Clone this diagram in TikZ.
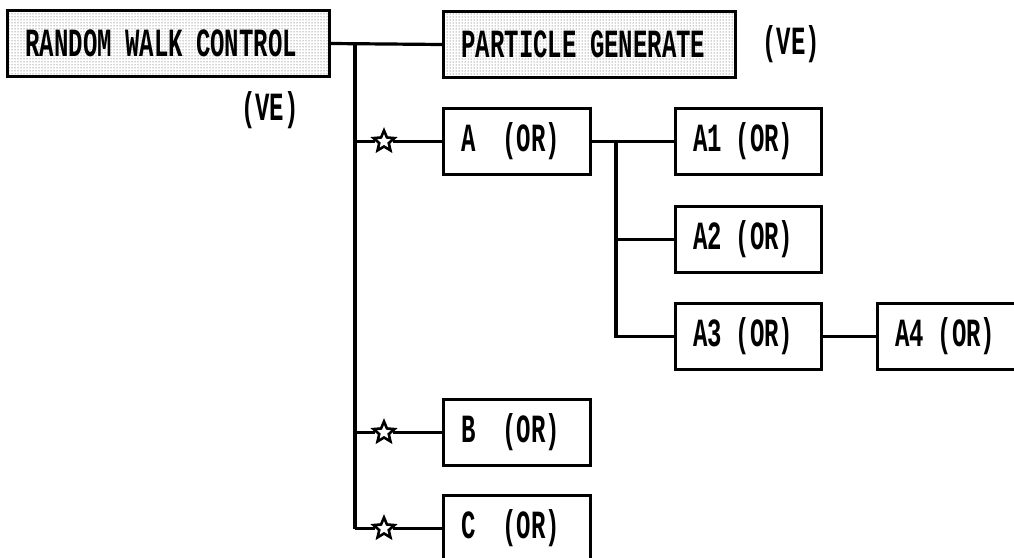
\documentclass[tikz,border=0pt]{standalone}
\usepackage{fontspec}
\usetikzlibrary{shapes.geometric,patterns}
\newfontfamily\boxfont{Liberation Mono}[FakeStretch=0.6]

\tikzset{
  lbl/.style={font=\boxfont\bfseries\fontsize{40}{44}\selectfont, inner sep=0pt},
  box/.style={lbl, draw, line width=3pt, minimum height=66pt,
              text width=#1, inner xsep=18pt, align=left, anchor=north west},
  shaded/.style={pattern=dots, pattern color=black!75},
  wire/.style={line width=3.2pt},
  mark star/.style={star, star points=5, star point ratio=2.2, draw,
                    line width=2.6pt, minimum size=22pt, inner sep=0pt}
}

\begin{document}
\begin{tikzpicture}[x=1pt,y=-1pt]
\useasboundingbox (0,0) rectangle (1014,557);
\clip (0,0) rectangle (1014,557);

% controller and particle generator
\node[box=286pt, shaded] (rwc) at (6,9)   {RANDOM WALK CONTROL};
\node[box=256pt, shaded] (pg)  at (442,10) {PARTICLE GENERATE};
\node[lbl] (ve1) at (270,110) {(VE)};
\node[lbl] (ve2) at (791,44)  {(VE)};

% first-level objects
\node[box=111pt] (A) at (442,107) {A~~(OR)};
\node[box=111pt] (B) at (442,398) {B~~(OR)};
\node[box=111pt] (C) at (442,494) {C~~(OR)};

% children of A
\node[box=110pt] (A1) at (674,107) {A1 (OR)};
\node[box=110pt] (A2) at (674,205) {A2 (OR)};
\node[box=110pt] (A3) at (674,302) {A3 (OR)};
\node[box=124pt] (A4) at (876,302) {A4 (OR)};

% column guides
\coordinate (trunk) at (355,0);
\coordinate (starcol) at (384,0);
\coordinate (subtrunk) at (616,0);

% stars on the trunk branches
\node[mark star] (sA) at (starcol |- A.west) {};
\node[mark star] (sB) at (starcol |- B.west) {};
\node[mark star] (sC) at (starcol |- C.west) {};

% trunk
\coordinate (t0) at (trunk |- rwc.east);
\coordinate (tA) at (trunk |- A.west);
\coordinate (tB) at (trunk |- B.west);
\coordinate (tC) at (trunk |- C.west);
\draw[wire] (rwc.east) -- (pg.west);
\draw[wire] (t0) -- (tC);
\draw[wire] (tA) -- (sA) -- (A.west);
\draw[wire] (tB) -- (sB) -- (B.west);
\draw[wire] (tC) -- (sC) -- (C.west);

% branch of A
\coordinate (k0) at (subtrunk |- A.east);
\draw[wire] (A.east) -- (A1.west);
\draw[wire] (k0) |- (A3.west);
\draw[wire] (k0 |- A2.west) -- (A2.west);
\draw[wire] (A3.east) -- (A4.west);
\end{tikzpicture}
\end{document}
